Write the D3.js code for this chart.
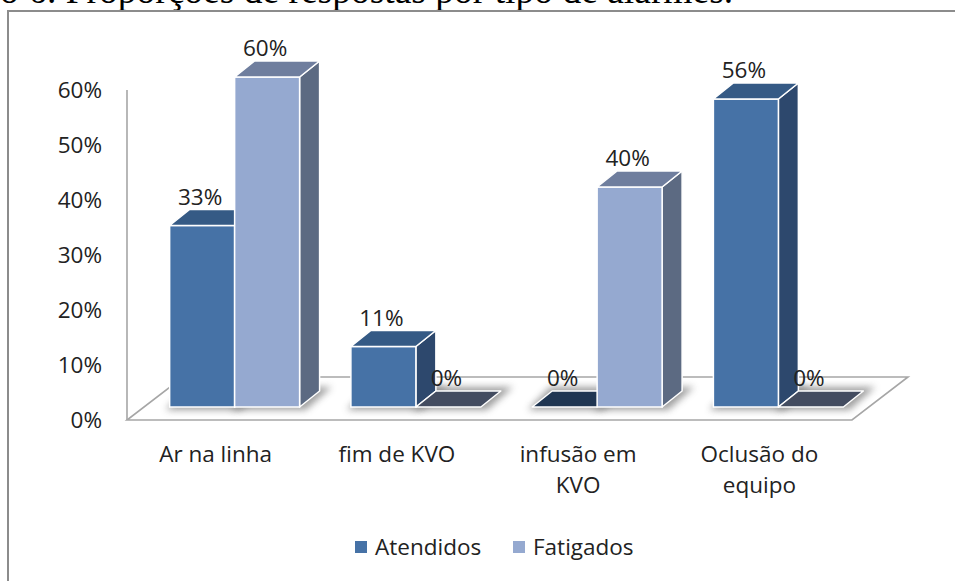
<!DOCTYPE html>
<html>
<head>
<meta charset="utf-8">
<script src="https://cdn.jsdelivr.net/npm/d3@7"></script>
<style>
  body { margin: 0; background: #fff; }
  svg { display: block; }
  text { font-family: "Open Sans", sans-serif; fill: #222; }
</style>
</head>
<body>
<div id="chart"></div>
<script>
// data
const categories = ["Ar na linha", "fim de KVO", "infusão em KVO", "Oclusão do equipo"];
const categoryLines = [["Ar na linha"], ["fim de KVO"], ["infusão em", "KVO"], ["Oclusão do", "equipo"]];
const series = ["Atendidos", "Fatigados"];
const atendidos = [0.33, 0.11, 0, 0.56];
const fatigados = [0.60, 0, 0.40, 0];
const yTicks = [0, 0.1, 0.2, 0.3, 0.4, 0.5, 0.6];
const titleText = "o 6. Proporções de respostas por tipo de alarmes.";

const width = 955, height = 581;
const dx = 20, dy = -16;   // depth of the 3d bars
const fontSize = "22.5px";

const colors = {
  Atendidos: {front: "#4672a6", top: "#355a85", side: "#2d486d", flat: "#203652"},
  Fatigados: {front: "#95a9d0", top: "#6f7e9e", side: "#5c6a82", flat: "#434c60"}
};

const svg = d3.select("#chart").append("svg")
  .attr("width", width)
  .attr("height", height);

const defs = svg.append("defs");
defs.append("filter").attr("id", "blur")
  .attr("x", "-50%").attr("y", "-50%").attr("width", "200%").attr("height", "200%")
  .append("feGaussianBlur").attr("stdDeviation", 3.5);

// title line cut at the top of the image
svg.append("text")
  .attr("x", 0)
  .attr("y", 3)
  .style("font-family", "'Liberation Serif', serif")
  .style("font-size", "37.5px")
  .style("fill", "#000")
  .text(titleText);

// chart frame
svg.append("rect")
  .attr("x", 8).attr("y", 11)
  .attr("width", 1000).attr("height", 1000)
  .attr("fill", "none")
  .attr("stroke", "#8c8c8c")
  .attr("stroke-width", 2);

const x0 = d3.scaleBand()
  .domain(categories)
  .range([144, 869])
  .paddingInner(0.283)
  .paddingOuter(0.1415);

const x1 = d3.scaleBand()
  .domain(series)
  .range([0, x0.bandwidth()]);

// bars (front plane) and axis labels (floor edge) use slightly different baselines
const y = d3.scaleLinear().domain([0, 0.6]).range([407, 77]);
const yAxisScale = d3.scaleLinear().domain([0, 0.6]).range([420, 90]);

// floor
const floorFront = yAxisScale(0), floorBack = floorFront - 43;
svg.append("polygon")
  .attr("points", [[127, floorFront], [852, floorFront], [908, floorBack], [183, floorBack]].join(" "))
  .attr("fill", "#fff")
  .attr("stroke", "#a6a6a6")
  .attr("stroke-width", 1.6);

// vertical axis line
svg.append("line")
  .attr("x1", 127).attr("x2", 127)
  .attr("y1", yAxisScale(0.6)).attr("y2", yAxisScale(0))
  .attr("stroke", "#a6a6a6")
  .attr("stroke-width", 1.6);

const yAxis = svg.append("g")
  .attr("transform", "translate(127,0)")
  .call(d3.axisLeft(yAxisScale).tickValues(yTicks).tickFormat(d3.format(".0%")).tickSize(0).tickPadding(25));
yAxis.select(".domain").remove();
yAxis.selectAll("text")
  .style("font-family", "'Open Sans', sans-serif")
  .style("font-size", fontSize)
  .attr("fill", "#222");

// flatten data into bars
const bars = [];
categories.forEach((c, i) => {
  bars.push({cat: c, key: "Atendidos", value: atendidos[i]});
  bars.push({cat: c, key: "Fatigados", value: fatigados[i]});
});

// soft shadows under each bar
const base = y(0);
svg.append("g").selectAll("polygon")
  .data(bars)
  .enter().append("polygon")
    .attr("points", d => {
      const xa = x0(d.cat) + x1(d.key), xb = xa + x1.bandwidth();
      return [[xa - 4, base + 3], [xb + 6, base + 3], [xb + dx + 12, base + dy - 4], [xa + dx - 2, base + dy - 4]].join(" ");
    })
    .attr("fill", "#808080")
    .attr("opacity", 0.75)
    .attr("filter", "url(#blur)");

// 3d bars
const barG = svg.append("g").selectAll("g")
  .data(bars)
  .enter().append("g");

barG.each(function(d) {
  const g = d3.select(this);
  const xa = x0(d.cat) + x1(d.key), xb = xa + x1.bandwidth();
  const yt = y(d.value);
  const c = colors[d.key];
  if (d.value > 0) {
    g.append("polygon")
      .attr("points", [[xb, yt], [xb + dx, yt + dy], [xb + dx, base + dy], [xb, base]].join(" "))
      .attr("fill", c.side)
      .attr("stroke", "#fff").attr("stroke-width", 1.5).attr("stroke-linejoin", "round");
    g.append("rect")
      .attr("x", xa).attr("y", yt)
      .attr("width", xb - xa).attr("height", base - yt)
      .attr("fill", c.front)
      .attr("stroke", "#fff").attr("stroke-width", 1.5);
  }
  g.append("polygon")
    .attr("points", [[xa, yt], [xa + dx, yt + dy], [xb + dx, yt + dy], [xb, yt]].join(" "))
    .attr("fill", d.value > 0 ? c.top : c.flat)
    .attr("stroke", "#fff").attr("stroke-width", 1.5).attr("stroke-linejoin", "round");
});

// value labels
svg.append("g").selectAll("text")
  .data(bars)
  .enter().append("text")
    .attr("x", d => x0(d.cat) + x1(d.key) + x1.bandwidth() / 2 - 2)
    .attr("y", d => y(d.value) + dy - 5)
    .attr("text-anchor", "middle")
    .style("font-size", fontSize)
    .text(d => d3.format(".0%")(d.value));

// category labels
svg.append("g").selectAll("text")
  .data(categories)
  .enter().append("text")
    .attr("text-anchor", "middle")
    .style("font-size", fontSize)
    .each(function(d, i) {
      const cx = x0(d) + x0.bandwidth() / 2 - 19;
      d3.select(this).selectAll("tspan")
        .data(categoryLines[i])
        .enter().append("tspan")
          .attr("x", cx)
          .attr("y", (t, j) => 462 + j * 31)
          .text(t => t);
    });

// legend
const legend = svg.append("g").selectAll("g")
  .data(series)
  .enter().append("g")
    .attr("transform", (d, i) => `translate(${355 + i * 158},541)`);
legend.append("rect")
  .attr("width", 12).attr("height", 12)
  .attr("fill", d => colors[d].front);
legend.append("text")
  .attr("x", 20).attr("y", 14)
  .style("font-size", fontSize)
  .text(d => d);
</script>
</body>
</html>
